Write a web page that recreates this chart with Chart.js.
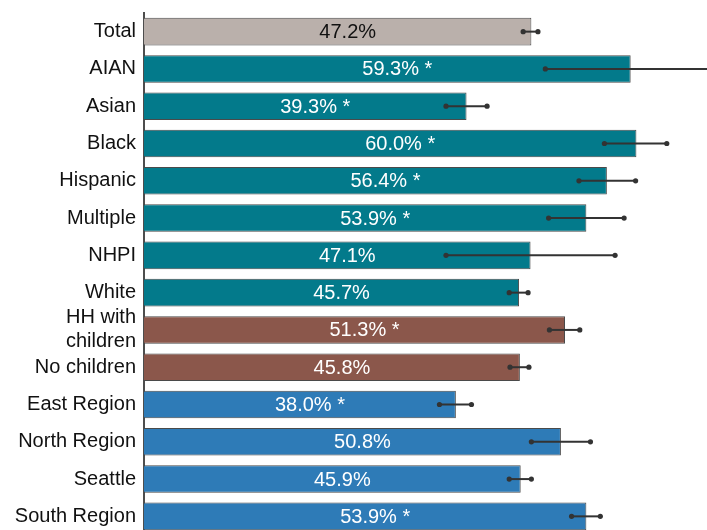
<!DOCTYPE html>
<html>
<head>
<meta charset="utf-8">
<script src="https://cdn.jsdelivr.net/npm/chart.js@4/dist/chart.umd.min.js"></script>
<style>
  html, body { margin: 0; padding: 0; background: #fff; overflow: hidden; }
  #wrap { width: 707px; height: 530px; overflow: hidden; }
</style>
</head>
<body>
<div id="wrap"><canvas id="chart" width="707" height="535"></canvas></div>
<script>
// data
const categories = ["Total", "AIAN", "Asian", "Black", "Hispanic", "Multiple", "NHPI", "White",
  ["HH with", "children"], "No children", "East Region", "North Region", "Seattle", "South Region"];
const values = [47.2, 59.3, 39.3, 60.0, 56.4, 53.9, 47.1, 45.7, 51.3, 45.8, 38.0, 50.8, 45.9, 53.9];
const significant = [false, true, true, true, true, true, false, false, true, false, true, false, false, true];
const errLow = [46.2, 48.9, 36.8, 56.1, 53.0, 49.3, 36.8, 44.5, 49.4, 44.6, 36.0, 47.2, 44.5, 52.1];
const errHigh = [48.0, 69.7, 41.8, 63.7, 59.9, 58.5, 57.4, 46.8, 53.1, 46.9, 39.9, 54.4, 47.2, 55.6];
const groups = ["total", "race", "race", "race", "race", "race", "race", "race",
  "hh", "hh", "region", "region", "region", "region"];

const groupColors = { total: "#bab0ab", race: "#037a8b", hh: "#8b574b", region: "#2e7bb7" };
const barColors = groups.map(g => groupColors[g]);

// error bars + value labels
const extras = {
  id: "extras",
  afterDatasetsDraw(chart) {
    const ctx = chart.ctx;
    const x = chart.scales.x;
    const y = chart.scales.y;
    ctx.save();
    values.forEach((v, i) => {
      const cy = y.getPixelForValue(i);
      // label
      const text = v.toFixed(1) + "%" + (significant[i] ? " *" : "");
      const cx = (x.getPixelForValue(0) + x.getPixelForValue(v)) / 2 + 10;
      ctx.font = "20px 'Liberation Sans', Arial, sans-serif";
      ctx.textAlign = "center";
      ctx.textBaseline = "middle";
      ctx.fillStyle = groups[i] === "total" ? "#111" : "#fff";
      ctx.fillText(text, cx, cy + 1);
      // error bar
      const x1 = x.getPixelForValue(errLow[i]);
      const x2 = x.getPixelForValue(errHigh[i]);
      ctx.strokeStyle = "#333";
      ctx.lineWidth = 2;
      ctx.beginPath();
      ctx.moveTo(x1, cy);
      ctx.lineTo(x2, cy);
      ctx.stroke();
      ctx.fillStyle = "#333";
      [x1, x2].forEach(px => {
        ctx.beginPath();
        ctx.arc(px, cy, 2.6, 0, Math.PI * 2);
        ctx.fill();
      });
    });
    ctx.restore();
  }
};

new Chart(document.getElementById("chart"), {
  type: "bar",
  data: {
    labels: categories,
    datasets: [{
      data: values,
      backgroundColor: barColors,
      borderColor: "#4a4a4a",
      borderWidth: 1,
      barPercentage: 0.74,
      categoryPercentage: 1
    }]
  },
  options: {
    indexAxis: "y",
    responsive: false,
    animation: false,
    devicePixelRatio: 1,
    layout: { padding: { top: 13, right: 0, bottom: 0, left: 0 } },
    plugins: { legend: { display: false }, tooltip: { enabled: false } },
    scales: {
      x: {
        display: false,
        min: 0,
        max: 68.6
      },
      y: {
        grid: { display: false },
        border: { display: true, color: "#4d4d4d", width: 2 },
        ticks: {
          color: "#111",
          padding: 0,
          autoSkip: false,
          font: { family: "'Liberation Sans', Arial, sans-serif", size: 20 }
        },
        afterFit(scale) {
          scale.width = 144;
          scale.paddingTop = 0;
          scale.paddingBottom = 0;
        }
      }
    }
  },
  plugins: [extras]
});
</script>
</body>
</html>
